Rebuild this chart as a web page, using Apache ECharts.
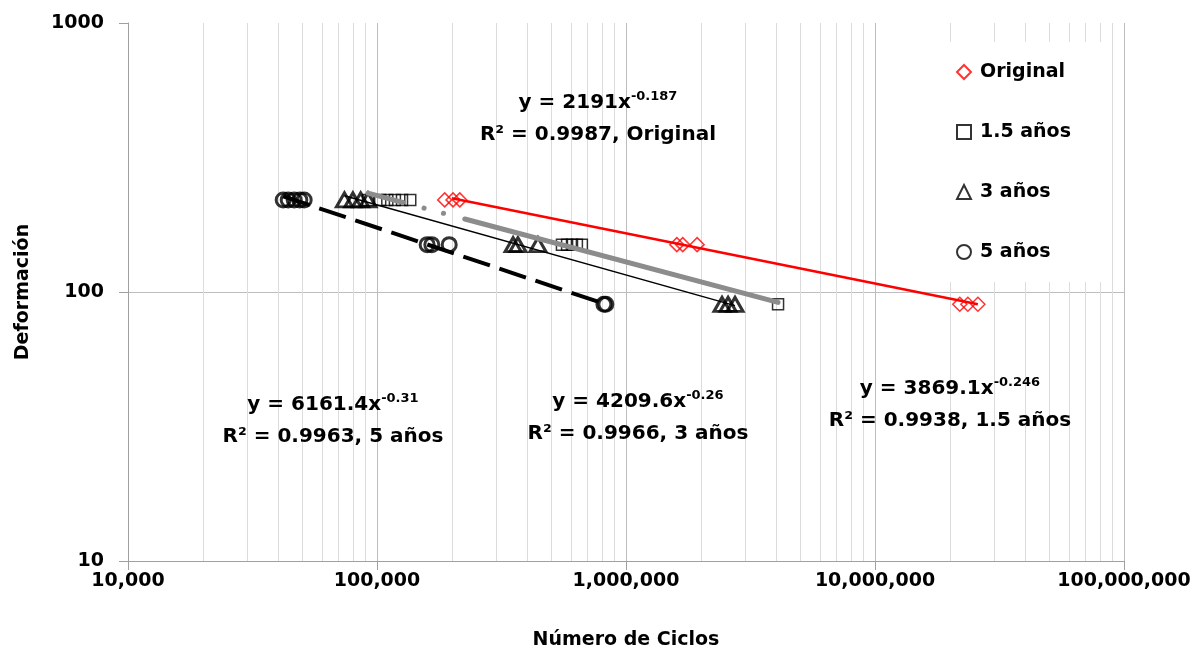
<!DOCTYPE html>
<html>
<head>
<meta charset="utf-8">
<script src="https://cdn.jsdelivr.net/npm/echarts@6/dist/echarts.min.js"></script>
<style>
  html, body { margin: 0; padding: 0; background: #fff; }
  #chart { width: 1204px; height: 652px; }
</style>
</head>
<body>
<div id="chart"></div>
<script>
// datos (ciclos, deformación)
const originalX = [187000, 202000, 215000, 1600000, 1690000, 1930000, 21900000, 23600000, 25900000]
const originalY = [220, 220, 220, 150, 150, 150, 90, 90, 90]
const anos15X = [92000, 103000, 110000, 118000, 126000, 136000, 553000, 580000, 607000, 635000, 665000, 4080000]
const anos15Y = [220, 220, 220, 220, 220, 220, 150, 150, 150, 150, 150, 90]
const anos3X = [74000, 80000, 86000, 92000, 352000, 368000, 443000, 2430000, 2570000, 2740000]
const anos3Y = [220, 220, 220, 220, 150, 150, 150, 90, 90, 90]
const anos5X = [42000, 44000, 46500, 49000, 51000, 159000, 166000, 195000, 815000, 830000]
const anos5Y = [220, 220, 220, 220, 220, 150, 150, 150, 90, 90]

// extremos de las líneas de tendencia (potencia)
const trendOriginal = [[200000, 223], [25900000, 90]]
const trend15 = [[92000, 233], [4080000, 91.5]]
const trend3 = [[74000, 228], [2740000, 89]]
const trend5 = [[42000, 227], [830000, 90]]

const xTicks = [10000, 100000, 1000000, 10000000, 100000000]
const yTicks = [10, 100, 1000]

// rejilla secundaria vertical (2..9 de cada década)
const minorX = []
xTicks.slice(0, -1).forEach(d => {
  for (let k = 2; k <= 9; k++) minorX.push(d * k)
})

const pair = (xs, ys) => xs.map((x, i) => [x, ys[i]])

const FONT = 'DejaVu Sans'
const bold = { fontFamily: FONT, fontWeight: 'bold', color: '#000' }

function eqText (x, y, base, sup, r2) {
  return [
    {
      type: 'text', x: x, y: y, z: 10,
      style: {
        text: '{b|' + base + '}{s|' + sup + '}',
        align: 'center', verticalAlign: 'middle',
        rich: {
          b: { fontFamily: FONT, fontWeight: 'bold', fontSize: 20, lineHeight: 26, fill: '#000' },
          s: { fontFamily: FONT, fontWeight: 'bold', fontSize: 13, lineHeight: 26, verticalAlign: 'top', fill: '#000' }
        }
      }
    },
    {
      type: 'text', x: x, y: y + 32, z: 10,
      style: {
        text: r2, align: 'center', verticalAlign: 'middle',
        font: 'bold 20px "' + FONT + '"', fill: '#000'
      }
    }
  ]
}

let myChart = echarts.init(document.getElementById('chart'))
let option = {
  animation: false,
  backgroundColor: '#fff',
  grid: { left: 128, right: 80, top: 23, bottom: 91, outerBoundsMode: 'none', containLabel: false },
  legend: {
    orient: 'vertical',
    left: 940,
    top: 42,
    z: 20,
    padding: [20, 35, 20, 16],
    backgroundColor: '#fff',
    itemWidth: 14,
    itemHeight: 14,
    itemGap: 40,
    data: ['Original', '1.5 años', '3 años', '5 años'],
    textStyle: Object.assign({ fontSize: 19, lineHeight: 20, padding: [0, 0, 0, 4] }, bold)
  },
  xAxis: {
    type: 'log',
    logBase: 10,
    min: 10000,
    max: 100000000,
    name: 'Número de Ciclos',
    nameLocation: 'middle',
    nameGap: 70,
    nameTextStyle: Object.assign({ fontSize: 19 }, bold),
    axisLine: { show: true, lineStyle: { color: '#a0a0a0', width: 1 } },
    axisTick: { show: true, length: 9, lineStyle: { color: '#a0a0a0' } },
    axisLabel: Object.assign({
      fontSize: 19, margin: 11,
      formatter: v => Math.round(v).toLocaleString('en-US')
    }, bold),
    splitLine: { show: true, lineStyle: { color: '#bdbdbd', width: 1 } }
  },
  yAxis: {
    type: 'log',
    logBase: 10,
    min: 10,
    max: 1000,
    name: 'Deformación',
    nameLocation: 'middle',
    nameGap: 95,
    nameTextStyle: Object.assign({ fontSize: 19 }, bold),
    axisLine: { show: true, lineStyle: { color: '#a0a0a0', width: 1 } },
    axisTick: { show: true, length: 9, lineStyle: { color: '#a0a0a0' } },
    axisLabel: Object.assign({ fontSize: 19, margin: 24, formatter: v => String(Math.round(v)) }, bold),
    splitLine: { show: true, showMaxLine: false, lineStyle: { color: '#bdbdbd', width: 1 } }
  },
  graphic: [].concat(
    eqText(598, 103, 'y = 2191x', '-0.187', 'R² = 0.9987, Original'),
    eqText(333, 405, 'y = 6161.4x', '-0.31', 'R² = 0.9963, 5 años'),
    eqText(638, 402, 'y = 4209.6x', '-0.26', 'R² = 0.9966, 3 años'),
    eqText(950, 389, 'y = 3869.1x', '-0.246', 'R² = 0.9938, 1.5 años')
  ),
  series: [
    {
      name: 'Original',
      type: 'scatter',
      symbol: 'diamond',
      symbolSize: 14,
      data: pair(originalX, originalY),
      itemStyle: { color: 'transparent', borderColor: '#ff0000', borderWidth: 1.5 },
      markLine: {
        silent: true,
        z: 1,
        symbol: 'none',
        label: { show: false },
        lineStyle: { color: '#dcdcdc', width: 1, type: 'solid' },
        data: minorX.map(v => ({ xAxis: v }))
      }
    },
    {
      name: '1.5 años',
      type: 'scatter',
      symbol: 'rect',
      symbolSize: 11,
      data: pair(anos15X, anos15Y),
      itemStyle: { color: 'transparent', borderColor: '#000', borderWidth: 1.5 }
    },
    {
      name: '3 años',
      type: 'scatter',
      symbol: 'triangle',
      symbolSize: [16, 14],
      data: pair(anos3X, anos3Y),
      itemStyle: { color: 'transparent', borderColor: '#000', borderWidth: 3 }
    },
    {
      name: '5 años',
      type: 'scatter',
      symbol: 'circle',
      symbolSize: 14,
      data: pair(anos5X, anos5Y),
      itemStyle: { color: 'transparent', borderColor: '#000', borderWidth: 3 }
    },
    {
      name: 'tend Original',
      type: 'line',
      showSymbol: false,
      data: trendOriginal,
      lineStyle: { color: '#ff0000', width: 2.5 }
    },
    {
      name: 'tend 1.5',
      type: 'line',
      showSymbol: false,
      data: trend15,
      lineStyle: { color: '#8c8c8c', width: 5, cap: 'round', type: [36, 22, 0.1, 20, 0.1, 22, 420, 10] }
    },
    {
      name: 'tend 3',
      type: 'line',
      showSymbol: false,
      data: trend3,
      lineStyle: { color: '#000', width: 1.5 }
    },
    {
      name: 'tend 5',
      type: 'line',
      showSymbol: false,
      data: trend5,
      lineStyle: { color: '#000', width: 4, type: [28, 10] }
    }
  ]
}
myChart.setOption(option)
</script>
</body>
</html>
